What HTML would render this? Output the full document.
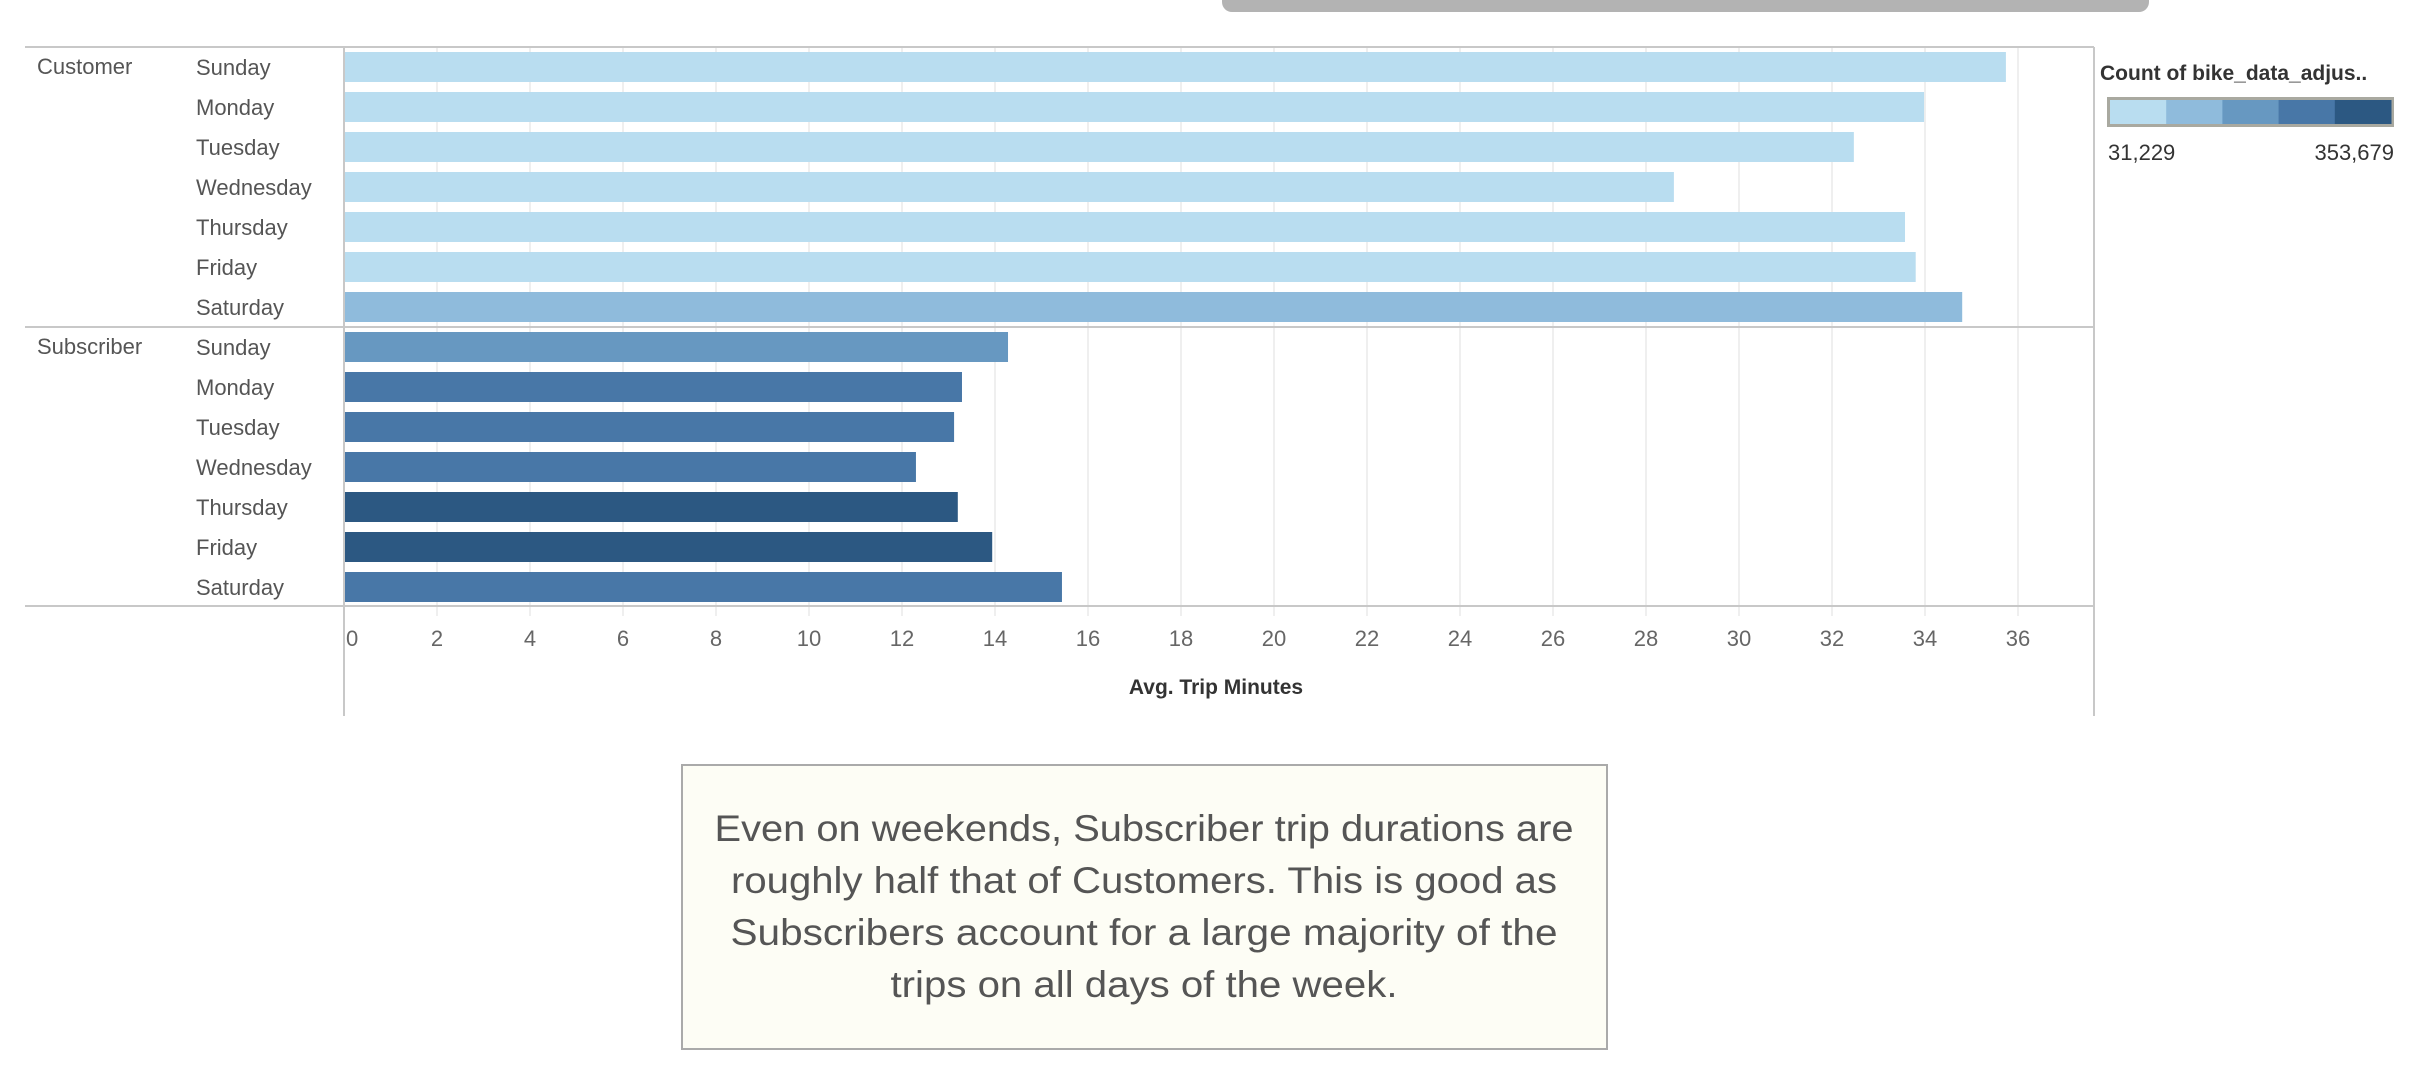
<!DOCTYPE html>
<html><head><meta charset="utf-8"><style>
body{margin:0;background:#fff;}
svg{display:block;font-family:"Liberation Sans",sans-serif;}
</style></head><body>
<svg id="chart" width="2416" height="1084" viewBox="0 0 2416 1084">
<rect x="1222" y="-12" width="927" height="24" rx="10" fill="#b3b3b3"/>
<g id="grid"></g>
<g id="bars"></g>
<g id="rows"></g>
<g id="axis"></g>
<line x1="25" y1="47" x2="2094" y2="47" stroke="#c8c8c8" stroke-width="2"/>
<line x1="25" y1="327" x2="2094" y2="327" stroke="#c8c8c8" stroke-width="2"/>
<line x1="25" y1="606" x2="2094" y2="606" stroke="#c8c8c8" stroke-width="2"/>
<line x1="344" y1="47" x2="344" y2="716" stroke="#c8c8c8" stroke-width="2"/>
<line x1="2094" y1="47" x2="2094" y2="716" stroke="#c8c8c8" stroke-width="2"/>
<text x="37" y="74" font-size="22" fill="#555">Customer</text>
<text x="37" y="354" font-size="22" fill="#555">Subscriber</text>
<text x="1216" y="694" font-size="21" font-weight="bold" fill="#333" text-anchor="middle">Avg. Trip Minutes</text>
<g>
<text x="2100" y="80" font-size="21" font-weight="bold" fill="#333">Count of bike_data_adjus..</text>
<rect x="2107" y="97" width="287" height="30" fill="#a9a9a0"/>
<g id="legend"></g>
<text x="2108" y="160" font-size="22" fill="#333">31,229</text>
<text x="2394" y="160" font-size="22" fill="#333" text-anchor="end">353,679</text>
</g>
<rect x="682" y="765" width="925" height="284" fill="#fdfdf5" stroke="#aaa" stroke-width="2"/>
<g font-size="37" fill="#555" text-anchor="middle">
<text x="1144" y="841" textLength="859" lengthAdjust="spacingAndGlyphs">Even on weekends, Subscriber trip durations are</text>
<text x="1144" y="893" textLength="826" lengthAdjust="spacingAndGlyphs">roughly half that of Customers. This is good as</text>
<text x="1144" y="945" textLength="827" lengthAdjust="spacingAndGlyphs">Subscribers account for a large majority of the</text>
<text x="1144" y="997" textLength="507" lengthAdjust="spacingAndGlyphs">trips on all days of the week.</text>
</g>
</svg>
<script>
const days = ["Sunday","Monday","Tuesday","Wednesday","Thursday","Friday","Saturday"];
const customerMinutes = [35.74, 33.98, 32.47, 28.6, 33.57, 33.8, 34.8];
const subscriberMinutes = [14.28, 13.29, 13.12, 12.3, 13.2, 13.94, 15.44];
const customerColorBin = [0, 0, 0, 0, 0, 0, 1];
const subscriberColorBin = [2, 3, 3, 3, 4, 4, 3];
const ticks = [0,2,4,6,8,10,12,14,16,18,20,22,24,26,28,30,32,34,36];
const palette = ["#b9ddf0","#8fbbdc","#6798c1","#4877a7","#2c5882"];
const NS = "http://www.w3.org/2000/svg";
const x0 = 344, k = 46.5;
function xs(v){ return x0 + v*k; }
function mk(tag, attrs, parent){ const e=document.createElementNS(NS,tag); for(const a in attrs) e.setAttribute(a,attrs[a]); parent.appendChild(e); return e; }
const grid=document.getElementById('grid'), axis=document.getElementById('axis');
ticks.forEach(t=>{
  if(t>0){
    const l=mk('line',{x1:xs(t),x2:xs(t),y1:47,y2:616,stroke:'#efefef','stroke-width':2},grid);
    
    
  }
  const tx=mk('text',{x:t===0?x0+2:xs(t),y:646,'font-size':22,fill:'#666','text-anchor':t===0?'start':'middle'},axis);
  tx.textContent=t;
  
  
});
const bars=document.getElementById('bars'), rows=document.getElementById('rows');
function group(vals, bins, top, name){
  vals.forEach((v,i)=>{
    const y=top+i*40;
    const r=mk('rect',{x:x0+1,y:y,width:xs(v)-x0-1,height:30,fill:palette[bins[i]]},bars);
    
    
    const t=mk('text',{x:196,y:y+23,'font-size':22,fill:'#555'},rows);
    t.textContent=days[i];
    
    
  });
}
group(customerMinutes, customerColorBin, 52, 'customer');
group(subscriberMinutes, subscriberColorBin, 332, 'subscriber');
const lg=document.getElementById('legend');
palette.forEach((c,i)=>{
  const w=(287-6)/5;
  const r=mk('rect',{x:2110+i*w,y:100,width:w+0.5,height:24,fill:c},lg);
  
  
});
</script>
</body></html>
